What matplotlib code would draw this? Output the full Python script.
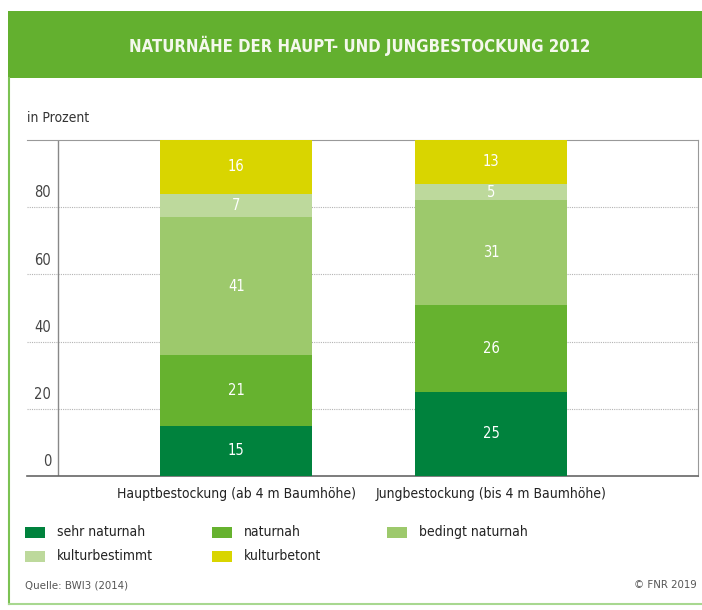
import matplotlib
matplotlib.use('Agg')
import matplotlib.pyplot as plt
from matplotlib.patches import Rectangle
from matplotlib.lines import Line2D

plt.rcParams['font.family'] = ['DejaVu Sans']
plt.rcParams['font.stretch'] = 'condensed'

# data
categories = ['Hauptbestockung (ab 4 m Baumhöhe)', 'Jungbestockung (bis 4 m Baumhöhe)']
series_names = ['sehr naturnah', 'naturnah', 'bedingt naturnah', 'kulturbestimmt', 'kulturbetont']
sehr_naturnah = [15, 25]
naturnah = [21, 26]
bedingt_naturnah = [41, 31]
kulturbestimmt = [7, 5]
kulturbetont = [16, 13]
yticks = [0, 20, 40, 60, 80]

series = [sehr_naturnah, naturnah, bedingt_naturnah, kulturbestimmt, kulturbetont]
colors = ['#00823d', '#66b22f', '#9dc96c', '#bdd99c', '#d9d500']

W, H = 702, 610
fig = plt.figure(figsize=(W / 100, H / 100), dpi=100)

def fx(px):
    return px / W

def fy(py):
    return 1 - py / H

# title band and frame
fig.patches.append(Rectangle((fx(8), fy(78)), fx(702 - 8), 67 / H, transform=fig.transFigure,
                             facecolor='#63b02f', edgecolor='none', zorder=0))
fig.lines.append(Line2D([fx(9), fx(9)], [fy(78), fy(604)], transform=fig.transFigure,
                        color='#7cc253', lw=1.5))
fig.lines.append(Line2D([fx(9), fx(702)], [fy(604), fy(604)], transform=fig.transFigure,
                        color='#a8d890', lw=1.5))
fig.text(fx(360), fy(46), 'NATURNÄHE DER HAUPT- UND JUNGBESTOCKUNG 2012', color='#f4f8ec',
         fontsize=12, fontweight='bold', ha='center', va='center')
fig.text(fx(27), fy(118), 'in Prozent', color='#333333', fontsize=10, ha='left', va='center')

ax = fig.add_axes([fx(27), fy(476), fx(698 - 27), 336 / H])
x = [0, 1]
bottom = [0, 0]
for vals, c in zip(series, colors):
    bars = ax.bar(x, vals, width=0.596, bottom=bottom, color=c, zorder=3)
    for xi, v, b in zip(x, vals, bottom):
        ax.text(xi, b + v / 2, str(v), color='white', ha='center', va='center',
                fontsize=10.5, zorder=4)
    bottom = [b + v for b, v in zip(bottom, vals)]

ax.set_xlim(-0.82, 1.81)
ax.set_ylim(0, 100)
for t in yticks[1:]:
    ax.axhline(t, color='#b4b4b4', lw=0.8, ls=(0, (1, 1)), zorder=1)
ax.axvline(-0.698, color='#888888', lw=1, zorder=2)
for t in yticks:
    ax.text(-0.725, t + 2, str(t), ha='right', va='bottom', fontsize=10.5, color='#444444')
ax.set_xticks([])
ax.set_yticks([])
ax.spines['left'].set_visible(False)
for s in ['top', 'right']:
    ax.spines[s].set_color('#999999')
ax.spines['bottom'].set_color('#666666')
ax.spines['bottom'].set_linewidth(1.2)
for xi, cat in zip(x, categories):
    ax.text(xi, -5.5, cat, ha='center', va='center', fontsize=10, color='#222222')

# legend
legend_pos = [(25, 532), (212, 532), (387, 532), (25, 556), (212, 556)]
for (lx, ly), name, c in zip(legend_pos, series_names, colors):
    fig.patches.append(Rectangle((fx(lx), fy(ly + 6)), 20 / W, 11 / H, transform=fig.transFigure,
                                 facecolor=c, edgecolor='none'))
    fig.text(fx(lx + 32), fy(ly), name, fontsize=10, color='#222222', ha='left', va='center')

fig.text(fx(25), fy(585), 'Quelle: BWI3 (2014)', fontsize=8.2, color='#555555', ha='left', va='center')
fig.text(fx(697), fy(585), '© FNR 2019', fontsize=8.2, color='#555555', ha='right', va='center')

fig.savefig('out.png', dpi=100)
